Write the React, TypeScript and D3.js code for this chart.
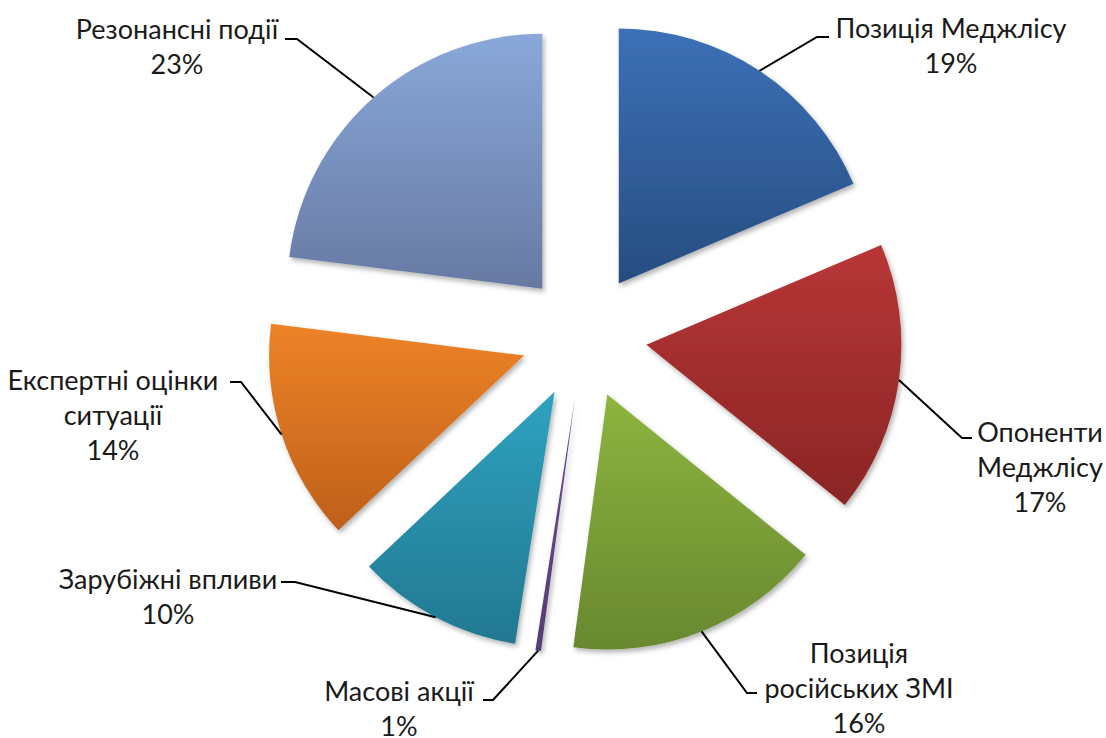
import React from "react";
import * as d3 from "d3";

// Data
const categories = [
  "Позиція Меджлісу",
  "Опоненти Меджлісу",
  "Позиція російських ЗМІ",
  "Масові акції",
  "Зарубіжні впливи",
  "Експертні оцінки ситуації",
  "Резонансні події",
];
const values = [18.6, 17.2, 16.3, 0.35, 10.5, 14.0, 23.0];
const percentLabels = ["19%", "17%", "16%", "1%", "10%", "14%", "23%"];
const labelLines = [
  ["Позиція Меджлісу", "19%"],
  ["Опоненти", "Меджлісу", "17%"],
  ["Позиція", "російських ЗМІ", "16%"],
  ["Масові акції", "1%"],
  ["Зарубіжні впливи", "10%"],
  ["Експертні оцінки", "ситуації", "14%"],
  ["Резонансні події", "23%"],
];

// Styles
const gradTop = ["#3C70B7", "#B83636", "#8DB43F", "#6B4D90", "#2FA2C0", "#EE8327", "#89A8D9"];
const gradBottom = ["#274D80", "#8A2525", "#68882F", "#553B73", "#227890", "#BE601B", "#6779A2"];

// Layout
const W = 1106, H = 738;
const cx = 584, cy = 336, R = 255, explode = 63;
const lineH = 35;
const FONT = "Lato, 'Open Sans', sans-serif";
const FS = 27;
// elbow point, horizontal end, text center x, first line center y
const labelLayout = [
  { ex: 817, ey: 37, hx: 829, tx: 951, ty: 29 },
  { ex: 962, ey: 438, hx: 972, tx: 1040, ty: 433 },
  { ex: 747, ey: 693, hx: 757, tx: 859, ty: 654 },
  { ex: 493, ey: 700, hx: 483, tx: 399, ty: 692 },
  { ex: 295, ey: 582, hx: 281, tx: 168, ty: 580 },
  { ex: 241, ey: 382, hx: 230, tx: 113, ty: 381 },
  { ex: 297, ey: 39, hx: 285, tx: 177, ty: 30 },
];

export default function App() {
  const pie = d3.pie<number>().sort(null).value((d) => d).startAngle(0).endAngle(2 * Math.PI);
  const arcs = pie(values);
  const arcGen = d3.arc<d3.PieArcDatum<number>>().innerRadius(0).outerRadius(R);

  return (
    <svg width={W} height={H} style={{ display: "block", position: "absolute", left: 0, top: 0 }}>
      <defs>
        {arcs.map((a, i) => (
          <linearGradient key={i} id={`g${i}`} x1="0" y1="0" x2="0" y2="1">
            <stop offset="0%" stopColor={gradTop[i]} />
            <stop offset="100%" stopColor={gradBottom[i]} />
          </linearGradient>
        ))}
        <filter id="shadow" x="-20%" y="-20%" width="140%" height="140%">
          <feDropShadow dx="2" dy="3" stdDeviation="2.5" floodColor="#000" floodOpacity="0.3" />
        </filter>
      </defs>
      <rect width={W} height={H} fill="#fff" />
      {arcs.map((a, i) => {
        const mid = (a.startAngle + a.endAngle) / 2;
        const ox = cx + explode * Math.sin(mid);
        const oy = cy - explode * Math.cos(mid);
        return (
          <g key={i} transform={`translate(${ox},${oy})`}>
            <path d={arcGen(a) || ""} fill={`url(#g${i})`} filter="url(#shadow)" />
          </g>
        );
      })}
      {arcs.map((a, i) => {
        const mid = (a.startAngle + a.endAngle) / 2;
        const ax = cx + (explode + R) * Math.sin(mid);
        const ay = cy - (explode + R) * Math.cos(mid);
        const L = labelLayout[i];
        return (
          <g key={"l" + i}>
            <polyline
              points={`${ax},${ay} ${L.ex},${L.ey} ${L.hx},${L.ey}`}
              fill="none"
              stroke="#000"
              strokeWidth={2}
            />
            <text
              x={L.tx}
              y={L.ty}
              textAnchor="middle"
              fontFamily={FONT}
              fontSize={FS}
              fill="#1a1a1a"
            >
              {labelLines[i].map((t, j) => (
                <tspan key={j} x={L.tx} y={L.ty + j * lineH} dy="0.35em">
                  {t}
                </tspan>
              ))}
            </text>
          </g>
        );
      })}
    </svg>
  );
}
